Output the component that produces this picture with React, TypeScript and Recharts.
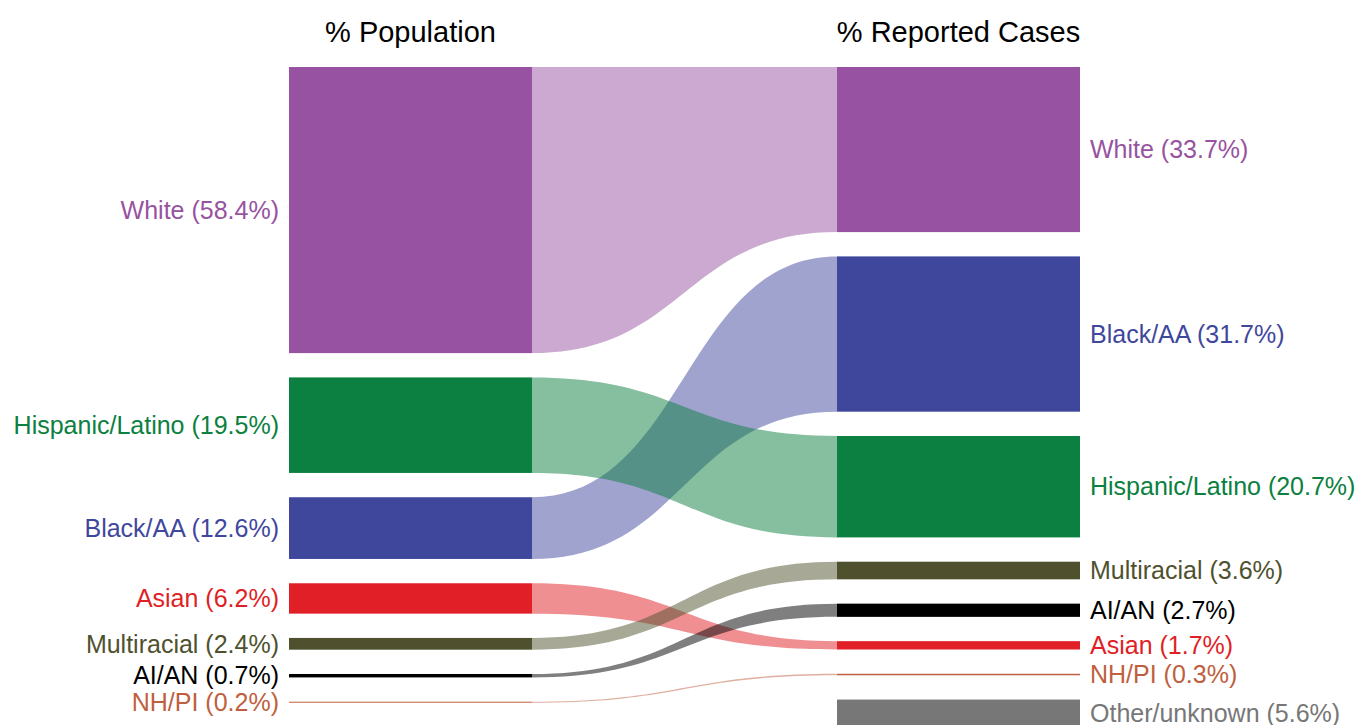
import { Sankey } from 'recharts';

// left column (% of population), top to bottom
const popCategories = ['White', 'Hispanic/Latino', 'Black/AA', 'Asian', 'Multiracial', 'AI/AN', 'NH/PI'];
const popPct = [58.4, 19.5, 12.6, 6.2, 2.4, 0.7, 0.2];

// right column (% of reported cases), top to bottom
const caseCategories = ['White', 'Black/AA', 'Hispanic/Latino', 'Multiracial', 'AI/AN', 'Asian', 'NH/PI', 'Other/unknown'];
const casePct = [33.7, 31.7, 20.7, 3.6, 2.7, 1.7, 0.3, 5.6];

// drawing order of the bands (later ones sit on top)
const linkOrder = ['White', 'Black/AA', 'Hispanic/Latino', 'Asian', 'Multiracial', 'AI/AN', 'NH/PI'];

const titles = ['% Population', '% Reported Cases'];

const colors: Record<string, string> = {
  White: '#9753A1',
  'Hispanic/Latino': '#0B8040',
  'Black/AA': '#3F479D',
  Asian: '#E01F26',
  Multiracial: '#4F512E',
  'AI/AN': '#000000',
  'NH/PI': '#BF5F40',
  'Other/unknown': '#777777',
};

const FONT = '"Liberation Sans", Arial, sans-serif';
const EPS = 1e-6;

// hidden source / sink nodes let each visible column keep its own size
const nodes = [
  { name: 'popSource', kind: 'hidden' },
  ...popCategories.map((name) => ({ name, kind: 'left' })),
  ...caseCategories.map((name) => ({ name, kind: 'right' })),
  { name: 'caseSink', kind: 'hidden' },
];
const leftIdx = (n: string) => 1 + popCategories.indexOf(n);
const rightIdx = (n: string) => 1 + popCategories.length + caseCategories.indexOf(n);
const sinkIdx = nodes.length - 1;

const links = [
  ...popCategories.map((n, i) => ({ source: 0, target: leftIdx(n), value: popPct[i], kind: 'hidden' })),
  ...linkOrder.map((n) => ({ source: leftIdx(n), target: rightIdx(n), value: EPS, kind: 'flow' })),
  { source: leftIdx('NH/PI'), target: rightIdx('Other/unknown'), value: EPS, kind: 'hidden' },
  ...caseCategories.map((n, i) => ({ source: rightIdx(n), target: sinkIdx, value: casePct[i], kind: 'hidden' })),
];

const margin = { top: 67, right: -268, bottom: 3, left: -259 };

function NodeShape(props: any) {
  const { x, y, width, height, payload } = props;
  if (payload.kind === 'hidden') return <g />;
  const color = colors[payload.name];
  const left = payload.kind === 'left';
  const first = left ? payload.name === popCategories[0] : payload.name === caseCategories[0];
  return (
    <g>
      <rect x={x} y={y} width={width} height={height} fill={color} />
      <text
        x={left ? x - 10 : x + width + 10}
        y={y + height / 2}
        dy="0.35em"
        textAnchor={left ? 'end' : 'start'}
        fill={color}
        fontSize={25}
        fontFamily={FONT}
      >
        {`${payload.name} (${payload.value.toFixed(1)}%)`}
      </text>
      {first && (
        <text x={x + width / 2} y={y - 25} textAnchor="middle" fill="#000" fontSize={29} fontFamily={FONT}>
          {left ? titles[0] : titles[1]}
        </text>
      )}
    </g>
  );
}

function LinkShape(props: any) {
  const { sourceX, targetX, payload } = props;
  if (payload.kind !== 'flow') return <g />;
  const s = payload.source;
  const t = payload.target;
  const top = margin.top;
  const sy0 = s.y + top;
  const sy1 = sy0 + s.dy;
  const ty0 = t.y + top;
  const ty1 = ty0 + t.dy;
  const cx = (sourceX + targetX) / 2;
  const d =
    `M${sourceX},${sy0} C${cx},${sy0} ${cx},${ty0} ${targetX},${ty0} ` +
    `L${targetX},${ty1} C${cx},${ty1} ${cx},${sy1} ${sourceX},${sy1} Z`;
  return <path d={d} fill={colors[s.name]} fillOpacity={0.5} stroke="none" />;
}

export default function App() {
  return (
    <div style={{ position: 'absolute', left: 0, top: 0, width: 1360, height: 725, overflow: 'hidden', background: '#fff' }}>
      <Sankey
        width={1360}
        height={730}
        data={{ nodes, links }}
        nodeWidth={243}
        nodePadding={24.3}
        iterations={0}
        margin={margin}
        node={NodeShape}
        link={LinkShape}
      />
    </div>
  );
}
